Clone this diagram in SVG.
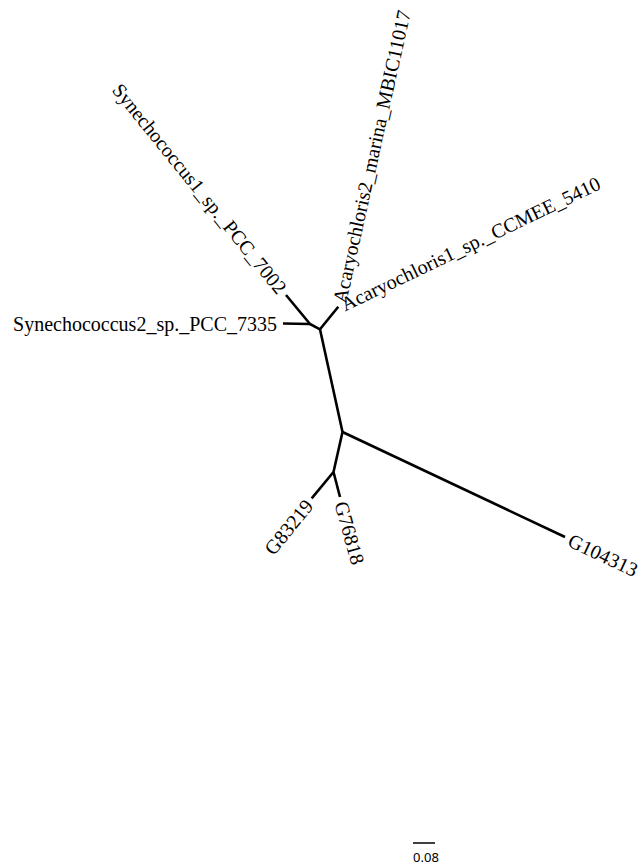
<svg xmlns="http://www.w3.org/2000/svg" width="641" height="867" viewBox="0 0 641 867">
<style>
.br{stroke:#000;stroke-width:2.6;fill:none;stroke-linecap:butt;stroke-linejoin:round}
.lb{font-family:"Liberation Serif","Times New Roman",serif;font-size:20px;fill:#000}
.sc{font-family:"Noto Sans","Open Sans",sans-serif;font-size:13px;fill:#000}
</style>
<rect x="0" y="0" width="641" height="867" fill="#fff"/>
<g id="connectors">
<line class="br" x1="342.5" y1="432" x2="565" y2="537"/>
<line class="br" x1="342.5" y1="432" x2="320" y2="329.3"/>
<line class="br" x1="342.5" y1="432" x2="333.5" y2="472"/>
<line class="br" x1="333.5" y1="472" x2="311.7" y2="498.3"/>
<line class="br" x1="333.5" y1="472" x2="340" y2="497"/>
<line class="br" x1="320" y1="329.3" x2="338.3" y2="306.7"/>
<line class="br" x1="320" y1="329.3" x2="310" y2="324"/>
<line class="br" x1="310" y1="324" x2="283" y2="323.5"/>
<line class="br" x1="310" y1="324" x2="286" y2="295"/>
</g>
<g id="Synechococcus1_sp._PCC_7002"><text class="lb" transform="translate(282.8,291) rotate(51)" text-anchor="end" dy="0.36em">Synechococcus1_sp._PCC_7002</text></g>
<g id="Synechococcus2_sp._PCC_7335"><text class="lb" transform="translate(277,323.5)" text-anchor="end" dy="0.36em">Synechococcus2_sp._PCC_7335</text></g>
<g id="Acaryochloris2_marina_MBIC11017"><text class="lb" transform="translate(339,302.5) rotate(-77.5)" dy="0.36em">Acaryochloris2_marina_MBIC11017</text></g>
<g id="Acaryochloris1_sp._CCMEE_5410"><text class="lb" transform="translate(342,305) rotate(-25.6)" dy="0.36em">Acaryochloris1_sp._CCMEE_5410</text></g>
<g id="G83219"><text class="lb" transform="translate(308.8,501.9) rotate(-51)" text-anchor="end" dy="0.36em">G83219</text></g>
<g id="G76818"><text class="lb" transform="translate(341.3,501.8) rotate(74.4)" dy="0.36em">G76818</text></g>
<g id="G104313"><text class="lb" transform="translate(569.5,539.1) rotate(25.2)" dy="0.36em">G104313</text></g>
<g id="scale">
<line x1="413" y1="843" x2="435" y2="843" stroke="#000" stroke-width="1.5"/>
<text class="sc" x="426" y="862" text-anchor="middle">0.08</text>
</g>
</svg>
